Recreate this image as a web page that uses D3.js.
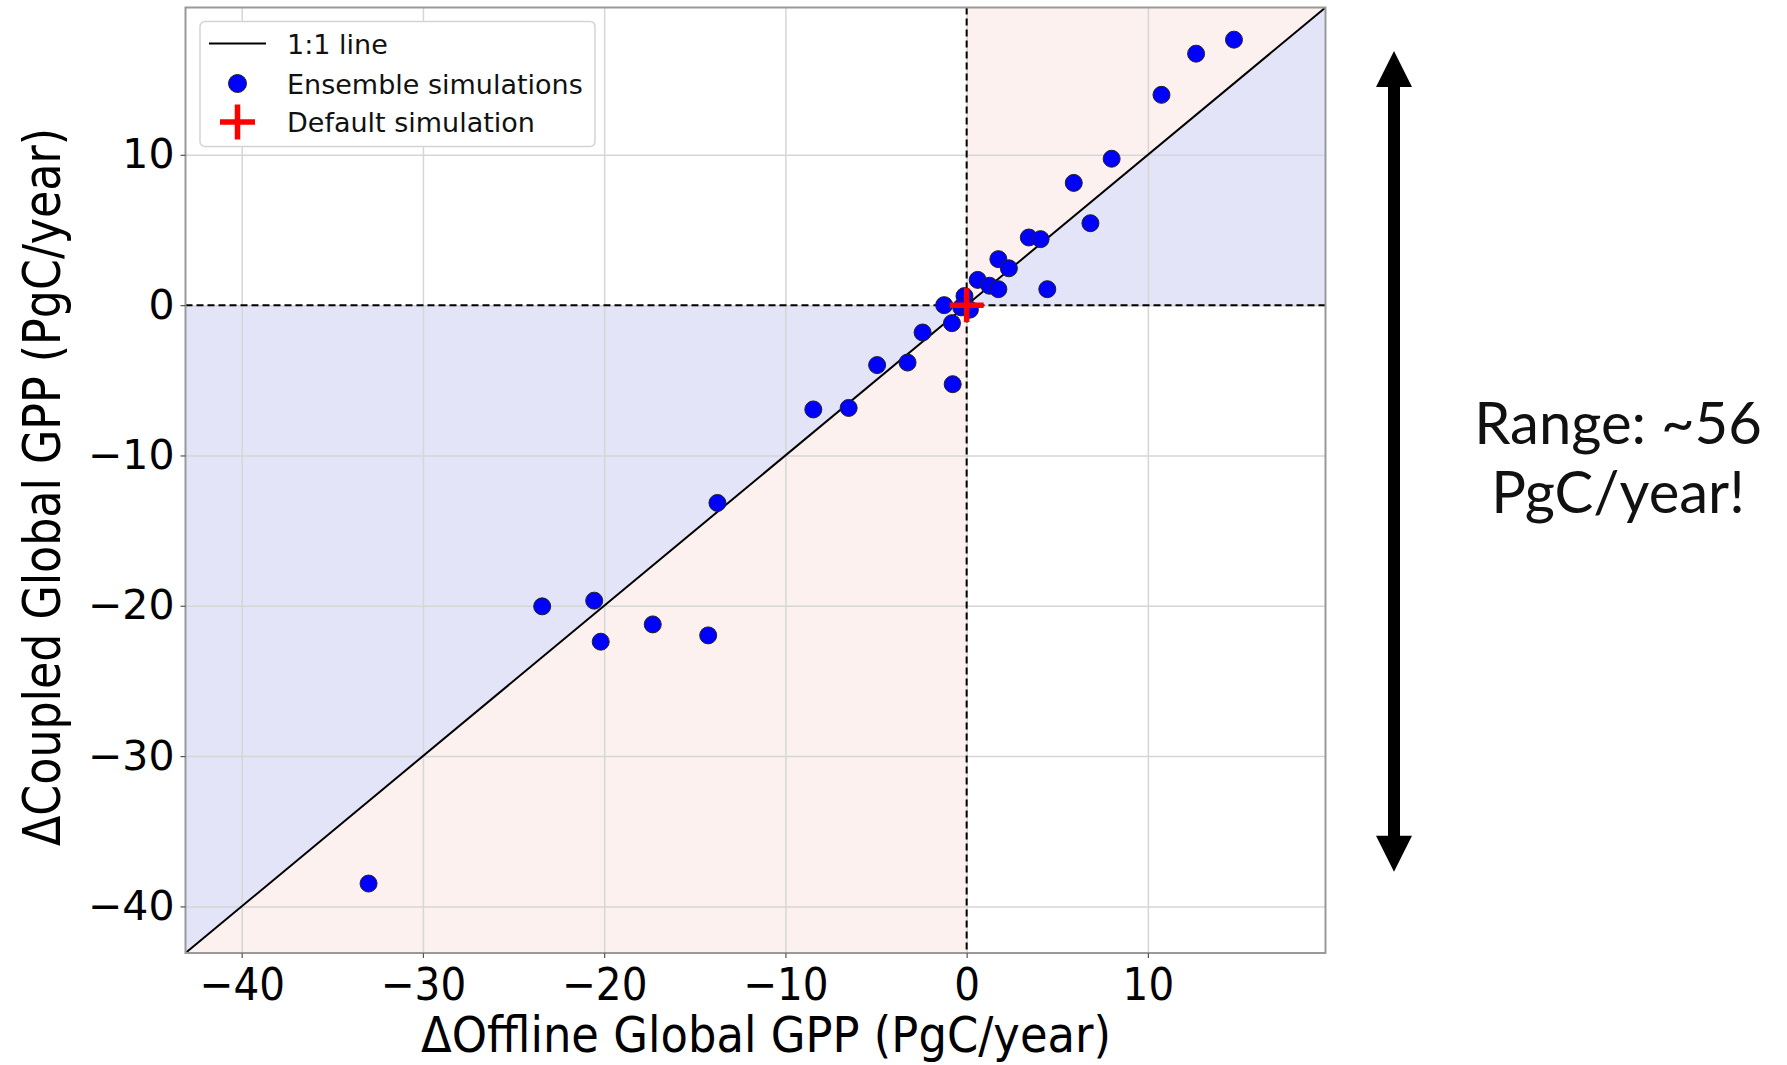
<!DOCTYPE html>
<html>
<head>
<meta charset="utf-8">
<script src="https://cdn.jsdelivr.net/npm/d3@7"></script>
<style>
  body { margin: 0; background: #fff; }
  svg { display: block; font-family: "DejaVu Sans", sans-serif; }
  .grid line { stroke: #d6d6d6; stroke-width: 1.5; }
  .grid path { stroke: none; }
</style>
</head>
<body>
<div class="svgParent"></div>
<script>
// data (PgC/year)
var offlineGPP = [14.75, 12.66, 10.75, 8.00, 5.91, 6.83, 3.43, 4.08, 1.75, 2.33, 0.61, 1.26, 1.75, 4.45,
                  -1.24, -0.12, -0.30, 0.18, -0.81, -2.43, -3.26, -4.94, -0.77, -8.46, -6.51, -13.75,
                  -23.42, -20.55, -20.19, -17.32, -14.26, -33.00];
var coupledGPP = [17.66, 16.73, 13.99, 9.74, 8.13, 5.45, 4.50, 4.39, 3.06, 2.45, 1.68, 1.29, 1.06, 1.06,
                  0.00, 0.60, -0.15, -0.30, -1.20, -1.82, -3.82, -3.99, -5.26, -6.94, -6.84, -13.16,
                  -20.04, -19.66, -22.39, -21.24, -21.97, -38.48];
var defaultX = [0];
var defaultY = [0];

var axisMin = -43.1, axisMax = 19.8;
var xTicks = [-40, -30, -20, -10, 0, 10];
var yTicks = [-40, -30, -20, -10, 0, 10];
var legendLabels = ["1:1 line", "Ensemble simulations", "Default simulation"];
var rangeArrow = [16.9, -37.7];
var rangeText = ["Range: ~56", "PgC/year!"];

var W = 1787, H = 1065;
var margin = {top: 7.5, right: W - 1325.5, bottom: H - 953, left: 185.5};
var width = W - margin.left - margin.right;
var height = H - margin.top - margin.bottom;

var svg = d3.select(".svgParent").append("svg")
    .attr("width", W).attr("height", H);

var x = d3.scaleLinear().domain([axisMin, axisMax]).range([0, width]);
var y = d3.scaleLinear().domain([axisMin, axisMax]).range([height, 0]);

var plot = svg.append("g").attr("transform", "translate(" + margin.left + "," + margin.top + ")");

// shaded triangles
var blue = "#e3e4f7", pink = "#fdf1ef";
var tri = function(pts) { return "M" + pts.map(function(p){ return x(p[0]) + "," + y(p[1]); }).join("L") + "Z"; };
plot.append("path").attr("d", tri([[axisMin, axisMin], [0, 0], [axisMin, 0]])).attr("fill", blue);
plot.append("path").attr("d", tri([[0, 0], [axisMax, axisMax], [axisMax, 0]])).attr("fill", blue);
plot.append("path").attr("d", tri([[axisMin, axisMin], [0, 0], [0, axisMin]])).attr("fill", pink);
plot.append("path").attr("d", tri([[0, 0], [0, axisMax], [axisMax, axisMax]])).attr("fill", pink);

// gridlines
plot.append("g").attr("class", "grid")
    .attr("transform", "translate(0," + height + ")")
    .call(d3.axisBottom(x).tickValues(xTicks).tickSize(-height).tickFormat(""));
plot.append("g").attr("class", "grid")
    .call(d3.axisLeft(y).tickValues(yTicks).tickSize(-width).tickFormat(""));

// 1:1 line
plot.append("line")
    .attr("x1", x(axisMin)).attr("y1", y(axisMin))
    .attr("x2", x(axisMax)).attr("y2", y(axisMax))
    .attr("stroke", "#000").attr("stroke-width", 2);

// zero lines
plot.append("line")
    .attr("x1", x(0)).attr("x2", x(0)).attr("y1", 0).attr("y2", height)
    .attr("stroke", "#000").attr("stroke-width", 2).attr("stroke-dasharray", "7,4");
plot.append("line")
    .attr("x1", 0).attr("x2", width).attr("y1", y(0)).attr("y2", y(0))
    .attr("stroke", "#000").attr("stroke-width", 2).attr("stroke-dasharray", "7,4");

// ensemble points
plot.selectAll("circle.ens")
    .data(d3.range(offlineGPP.length))
    .enter().append("circle")
    .attr("class", "ens")
    .attr("cx", function(i){ return x(offlineGPP[i]); })
    .attr("cy", function(i){ return y(coupledGPP[i]); })
    .attr("r", 8.5)
    .attr("fill", "#0000ff")
    .attr("stroke", "#222")
    .attr("stroke-width", 1);

// default simulation
function cross(g, cx, cy, len) {
    g.append("line").attr("x1", cx - len/2).attr("x2", cx + len/2).attr("y1", cy).attr("y2", cy)
        .attr("stroke", "#ff0000").attr("stroke-width", 5.5);
    g.append("line").attr("x1", cx).attr("x2", cx).attr("y1", cy - len/2).attr("y2", cy + len/2)
        .attr("stroke", "#ff0000").attr("stroke-width", 5.5);
}
defaultX.forEach(function(d, i){ cross(plot, x(d), y(defaultY[i]), 34); });

// frame
plot.append("rect").attr("width", width).attr("height", height)
    .attr("fill", "none").attr("stroke", "#999").attr("stroke-width", 2);

// axes
var xAxis = plot.append("g")
    .attr("transform", "translate(0," + height + ")")
    .call(d3.axisBottom(x).tickValues(xTicks).tickSize(5).tickPadding(8));
var yAxis = plot.append("g")
    .call(d3.axisLeft(y).tickValues(yTicks).tickSize(5).tickPadding(6));
[xAxis, yAxis].forEach(function(a){
    a.select(".domain").remove();
    a.selectAll(".tick line").attr("stroke", "#555").attr("stroke-width", 1.2);
    a.selectAll("text").attr("fill", "#000").attr("font-family", "DejaVu Sans");
});
xAxis.selectAll("text").attr("font-size", 45).attr("dy", "0.76em");
xAxis.selectAll("text").each(function(){
    var t = d3.select(this);
    t.attr("textLength", this.getComputedTextLength() * 0.9).attr("lengthAdjust", "spacingAndGlyphs");
});
yAxis.selectAll("text").attr("font-size", 41);

// axis labels
svg.append("text")
    .attr("x", 766).attr("y", 1052)
    .attr("text-anchor", "middle")
    .attr("font-size", 50)
    .attr("textLength", 690).attr("lengthAdjust", "spacingAndGlyphs")
    .text("\u0394Offline Global GPP (PgC/year)");
svg.append("text")
    .attr("transform", "translate(60,487) rotate(-90)")
    .attr("text-anchor", "middle")
    .attr("font-size", 52)
    .attr("textLength", 718).attr("lengthAdjust", "spacingAndGlyphs")
    .text("\u0394Coupled Global GPP (PgC/year)");

// legend
var legend = svg.append("g");
legend.append("rect")
    .attr("x", 200).attr("y", 21.5).attr("width", 395).attr("height", 125).attr("rx", 5)
    .attr("fill", "#fff").attr("stroke", "#d4d4d4").attr("stroke-width", 1.5);
var rowY = [43.5, 83.5, 122];
legend.append("line").attr("x1", 209).attr("x2", 266).attr("y1", rowY[0]).attr("y2", rowY[0])
    .attr("stroke", "#000").attr("stroke-width", 2);
legend.append("circle").attr("cx", 237.5).attr("cy", rowY[1]).attr("r", 9)
    .attr("fill", "#0000ff").attr("stroke", "#222").attr("stroke-width", 1);
cross(legend, 237.5, rowY[2], 35);
legend.selectAll("text.lab")
    .data(legendLabels)
    .enter().append("text")
    .attr("class", "lab")
    .attr("x", 287).attr("y", function(d, i){ return rowY[i] + 10; })
    .attr("font-size", 27)
    .attr("fill", "#111")
    .text(function(d){ return d; });

// range annotation
var ax = 1394, ay1 = margin.top + y(rangeArrow[0]), ay2 = margin.top + y(rangeArrow[1]);
var hw = 18, hl = 36, sw = 6;
svg.append("path")
    .attr("d", "M" + ax + "," + ay1 +
        "L" + (ax + hw) + "," + (ay1 + hl) + "L" + (ax + sw) + "," + (ay1 + hl) +
        "L" + (ax + sw) + "," + (ay2 - hl) + "L" + (ax + hw) + "," + (ay2 - hl) +
        "L" + ax + "," + ay2 +
        "L" + (ax - hw) + "," + (ay2 - hl) + "L" + (ax - sw) + "," + (ay2 - hl) +
        "L" + (ax - sw) + "," + (ay1 + hl) + "L" + (ax - hw) + "," + (ay1 + hl) + "Z")
    .attr("fill", "#000");
svg.selectAll("text.range")
    .data(rangeText)
    .enter().append("text")
    .attr("class", "range")
    .attr("x", 1618).attr("y", function(d, i){ return 444 + i * 69; })
    .attr("text-anchor", "middle")
    .attr("font-family", "Lato, sans-serif")
    .attr("font-size", 58)
    .attr("fill", "#111")
    .text(function(d){ return d; });
</script>
</body>
</html>
